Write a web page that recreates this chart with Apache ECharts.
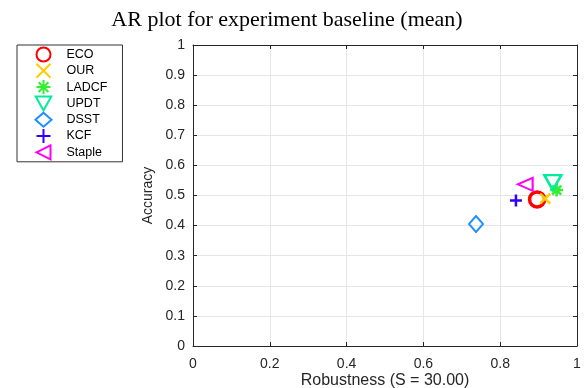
<!DOCTYPE html>
<html>
<head>
<meta charset="utf-8">
<script src="https://cdn.jsdelivr.net/npm/echarts@6/dist/echarts.min.js"></script>
<style>
  html, body { margin: 0; padding: 0; background: #fff; }
  #chart { width: 585px; height: 388px; }
</style>
</head>
<body>
<div id="chart"></div>
<script>
// AR plot values
const methods = ['ECO', 'OUR', 'LADCF', 'UPDT', 'DSST', 'KCF', 'Staple'];
const robustness = [0.896, 0.917, 0.947, 0.937, 0.737, 0.841, 0.865];
const accuracy = [0.487, 0.490, 0.518, 0.543, 0.405, 0.483, 0.537];

const colors = ['#ff0000', '#ffcc00', '#33ee33', '#00ee99', '#1e8fff', '#3300ff', '#ff00ee'];
const symbols = [
  'circle',
  'path://M0,0L10,10M10,0L0,10',
  'path://M5,0L5,10M0,5L10,5M1.5,1.5L8.5,8.5M8.5,1.5L1.5,8.5',
  'path://M0,0L10,0L5,9Z',
  'diamond',
  'path://M5,0L5,10M0,5L10,5',
  'path://M0,5L10,0L10,10Z'
];
const sizes = [[15, 15], [10, 10], [13, 13], [17, 15], [14, 16], [12, 12], [15, 13]];
const widths = [3.5, 2.5, 2.5, 2.5, 2, 2.5, 2];

const chart = echarts.init(document.getElementById('chart'));

const labelFont = { fontFamily: 'Liberation Sans, Arial', fontSize: 14, color: '#262626' };

const series = methods.map((name, i) => ({
  name: name,
  type: 'scatter',
  xAxisIndex: 0,
  yAxisIndex: 0,
  symbol: symbols[i],
  symbolSize: sizes[i],
  data: [[robustness[i], accuracy[i]]],
  itemStyle: { color: 'none', borderColor: colors[i], borderWidth: widths[i], opacity: 1 },
  emphasis: { disabled: true }
}));

chart.setOption({
  animation: false,
  title: {
    text: 'AR plot for experiment baseline (mean)',
    left: 282,
    textAlign: 'center',
    top: 4,
    textStyle: { fontFamily: 'Liberation Serif, Times New Roman', fontSize: 22, fontWeight: 'normal', color: '#000' }
  },
  legend: {
    orient: 'vertical',
    left: 17,
    top: 45,
    padding: [0, 15, 0, 16],
    itemWidth: 16,
    itemHeight: 14,
    itemGap: -2.7,
    borderColor: '#333',
    borderWidth: 1,
    textStyle: { fontFamily: 'Liberation Sans, Arial', fontSize: 12.5, lineHeight: 14, color: '#000', padding: [0, 0, 0, 10] },
    data: methods
  },
  grid: { left: 193, right: 8, top: 45, bottom: 42, outerBoundsMode: 'none' },
  xAxis: [{
    type: 'value', min: 0, max: 1, interval: 0.2,
    name: 'Robustness (S = 30.00)', nameLocation: 'middle', nameGap: 27, nameMoveOverlap: false,
    nameTextStyle: { fontFamily: 'Liberation Sans, Arial', fontSize: 16, color: '#262626' },
    axisLine: { lineStyle: { color: '#262626' } },
    axisTick: { inside: true, length: 4, lineStyle: { color: '#262626' } },
    axisLabel: Object.assign({ margin: 11, formatter: v => String(+v.toFixed(1)) }, labelFont),
    splitLine: { show: true, lineStyle: { color: '#e6e6e6' } }
  }, {
    type: 'value', min: 0, max: 1, interval: 0.2, position: 'top',
    axisLine: { show: true, onZero: false, lineStyle: { color: '#262626' } },
    axisTick: { inside: true, length: 4, lineStyle: { color: '#262626' } },
    axisLabel: { show: false }, splitLine: { show: false }
  }],
  yAxis: [{
    type: 'value', min: 0, max: 1, interval: 0.1,
    name: 'Accuracy', nameLocation: 'middle', nameGap: 38, nameMoveOverlap: false,
    nameTextStyle: { fontFamily: 'Liberation Sans, Arial', fontSize: 14, color: '#262626' },
    axisLine: { show: true, lineStyle: { color: '#262626' } },
    axisTick: { show: true, inside: true, length: 4, lineStyle: { color: '#262626' } },
    axisLabel: Object.assign({ margin: 8, formatter: v => String(+v.toFixed(1)) }, labelFont),
    splitLine: { show: true, lineStyle: { color: '#e6e6e6' } }
  }, {
    type: 'value', min: 0, max: 1, interval: 0.1, position: 'right',
    axisLine: { show: true, onZero: false, lineStyle: { color: '#262626' } },
    axisTick: { show: true, inside: true, length: 4, lineStyle: { color: '#262626' } },
    axisLabel: { show: false }, splitLine: { show: false }
  }],
  series: series
});
</script>
</body>
</html>
